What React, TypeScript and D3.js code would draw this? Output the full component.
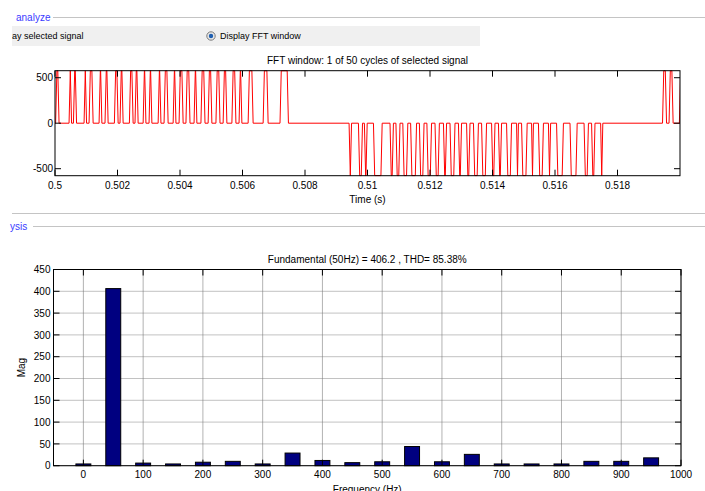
import React from 'react';
import * as d3 from 'd3';

// ---------- data ----------
const timeTicks = [0.5, 0.502, 0.504, 0.506, 0.508, 0.51, 0.512, 0.514, 0.516, 0.518];
const signalTicks = [-500, 0, 500];
const freqTicks = [0, 100, 200, 300, 400, 500, 600, 700, 800, 900, 1000];
const magTicks = [0, 50, 100, 150, 200, 250, 300, 350, 400, 450];

const harmonicFreqs = [0, 50, 100, 150, 200, 250, 300, 350, 400, 450, 500, 550, 600, 650, 700, 750, 800, 850, 900, 950];
const harmonicMags = [4, 406.2, 6, 4, 8, 10, 4, 29, 12, 7, 9, 44, 9, 26, 4, 4, 4, 10, 10, 18];

const pulseLevel = 576;
// positive pulses [start, end] in seconds
const posPulses: [number, number][] = [
  [0.50002, 0.50013], [0.50045, 0.50053], [0.50059, 0.50069], [0.50093, 0.50101],
  [0.50109, 0.50122], [0.50141, 0.5015], [0.5016, 0.5017], [0.5019, 0.50202],
  [0.50208, 0.50218], [0.50238, 0.5025], [0.50256, 0.50266], [0.50282, 0.50291],
  [0.50301, 0.5031], [0.5033, 0.50339], [0.50349, 0.50362], [0.50378, 0.50387],
  [0.50397, 0.5041], [0.50419, 0.50432], [0.50445, 0.50454], [0.50467, 0.5048],
  [0.5049, 0.50502], [0.50515, 0.50528], [0.50538, 0.5055], [0.50566, 0.50579],
  [0.50589, 0.50598], [0.50618, 0.50634], [0.50666, 0.50682], [0.5072, 0.50747],
  [0.51944, 0.51957], [0.51965, 0.51978], [0.51998, 0.5204],
];
// negative pulses [start, end] in seconds
const negPulses: [number, number][] = [
  [0.50941, 0.50949], [0.50971, 0.50984], [0.5099, 0.50999], [0.51019, 0.51047],
  [0.51072, 0.51083], [0.51091, 0.51104], [0.51113, 0.51129], [0.51138, 0.51157],
  [0.51166, 0.51181], [0.5119, 0.51205], [0.51216, 0.5123], [0.51243, 0.51253],
  [0.51264, 0.5128], [0.51291, 0.51301], [0.51317, 0.51328], [0.51339, 0.51355],
  [0.51365, 0.51381], [0.51397, 0.51408], [0.51419, 0.51429], [0.51445, 0.51461],
  [0.51477, 0.51483], [0.51493, 0.51511], [0.51525, 0.51531], [0.51547, 0.51563],
  [0.51579, 0.51586], [0.51605, 0.51627], [0.51648, 0.51671], [0.51693, 0.51707],
  [0.51717, 0.51728], [0.51746, 0.51753],
];

const FONT = "'Liberation Sans', Arial, Helvetica, sans-serif";

export default function App() {
  const W = 705, H = 491;

  // top plot
  const L1 = 55, R1 = 680, T1 = 70.7, B1 = 175.7;
  const x1 = d3.scaleLinear().domain([0.5, 0.52]).range([L1, R1]);
  const y1 = d3.scaleLinear().domain([-577, 577]).range([B1, T1]);

  // bottom plot
  const L2 = 53.5, R2 = 681, T2 = 269.5, B2 = 465.7;
  const x2 = d3.scaleLinear().domain([-50, 1000]).range([L2, R2]);
  const y2 = d3.scaleLinear().domain([0, 450]).range([B2, T2]);

  const ramp = 0.00004;
  const events = [
    ...posPulses.map((p) => ({ a: p[0], b: p[1], v: pulseLevel })),
    ...negPulses.map((p) => ({ a: p[0], b: p[1], v: -pulseLevel })),
  ].sort((m, n) => m.a - n.a);
  const pts: [number, number][] = [[0.5, 0]];
  for (const e of events) {
    const mid = (e.a + e.b) / 2;
    pts.push([e.a, 0], [Math.min(e.a + ramp, mid), e.v], [Math.max(e.b - ramp, mid), e.v], [e.b, 0]);
  }
  const line = d3.line<[number, number]>().x((d) => x1(d[0])).y((d) => y1(d[1]));
  const path = line(pts) || '';

  const tl = 6;
  const blue = '#3a3aff';

  return (
    <div style={{ position: 'absolute', left: 0, top: 0, width: W, height: H, overflow: 'hidden', background: '#fff' }}>
      <svg width={W} height={H} style={{ display: 'block', fontFamily: FONT }}>
        <defs>
          <clipPath id="clipTop">
            <rect x={L1} y={T1 - 1} width={R1 - L1} height={B1 - T1 + 2} />
          </clipPath>
        </defs>

        {/* group box header 1 */}
        <text x={16} y={21} fontSize={10} fill={blue}>analyze</text>
        <line x1={53} x2={W} y1={17.5} y2={17.5} stroke="#c4c4c4" strokeWidth={1} />
        <rect x={12} y={26} width={468} height={20} fill="#f0f0f0" />
        <text x={12} y={39} fontSize={9} fill="#000">ay selected signal</text>
        <circle cx={211} cy={36} r={4.2} fill="#e8e8e8" stroke="#7a7a7a" strokeWidth={1} />
        <circle cx={211} cy={36} r={2.2} fill="#1f5fb0" />
        <text x={220} y={39} fontSize={9} fill="#000">Display FFT window</text>

        {/* top plot */}
        <text x={(L1 + R1) / 2} y={63.5} fontSize={10} textAnchor="middle">FFT window: 1 of 50 cycles of selected signal</text>
        <path d={path} fill="none" stroke="#ff0000" strokeWidth={1} clipPath="url(#clipTop)" />
        <rect x={L1} y={T1} width={R1 - L1} height={B1 - T1} fill="none" stroke="#000" strokeWidth={1} />
        {timeTicks.map((t) => (
          <g key={'tt' + t}>
            <line x1={x1(t)} x2={x1(t)} y1={B1} y2={B1 - tl} stroke="#000" />
            <line x1={x1(t)} x2={x1(t)} y1={T1} y2={T1 + tl} stroke="#000" />
            <text x={x1(t)} y={188.5} fontSize={10} textAnchor="middle">{String(t)}</text>
          </g>
        ))}
        {signalTicks.map((v) => (
          <g key={'st' + v}>
            <line x1={L1} x2={L1 + tl} y1={y1(v)} y2={y1(v)} stroke="#000" />
            <line x1={R1} x2={R1 - tl} y1={y1(v)} y2={y1(v)} stroke="#000" />
            <text x={53} y={y1(v) + 3.6} fontSize={10} textAnchor="end">{String(v)}</text>
          </g>
        ))}
        <text x={(L1 + R1) / 2} y={202.5} fontSize={10} textAnchor="middle">Time (s)</text>

        {/* group box header 2 */}
        <line x1={12} x2={W} y1={213.5} y2={213.5} stroke="#c4c4c4" strokeWidth={1} />
        <text x={10} y={230} fontSize={10} fill={blue}>ysis</text>
        <line x1={33} x2={W} y1={226.5} y2={226.5} stroke="#c4c4c4" strokeWidth={1} />

        {/* bottom plot */}
        <text x={(L2 + R2) / 2} y={263} fontSize={10} textAnchor="middle">Fundamental (50Hz) = 406.2 , THD= 85.38%</text>
        {freqTicks.map((f) => (
          <line key={'gx' + f} x1={x2(f)} x2={x2(f)} y1={T2} y2={B2} stroke="#555" strokeWidth={0.9} strokeDasharray="1 1" />
        ))}
        {magTicks.map((m) => (
          <line key={'gy' + m} x1={L2} x2={R2} y1={y2(m)} y2={y2(m)} stroke="#777" strokeWidth={0.9} strokeDasharray="1 1" />
        ))}
        {harmonicFreqs.map((f, i) => (
          <rect key={'b' + f} x={x2(f - 12.5)} y={y2(harmonicMags[i])} width={x2(f + 12.5) - x2(f - 12.5)}
            height={y2(0) - y2(harmonicMags[i])} fill="#000080" stroke="#000" strokeWidth={1} />
        ))}
        <rect x={L2} y={T2} width={R2 - L2} height={B2 - T2} fill="none" stroke="#000" strokeWidth={1} />
        {freqTicks.map((f) => (
          <g key={'ft' + f}>
            <line x1={x2(f)} x2={x2(f)} y1={B2} y2={B2 - tl} stroke="#000" />
            <line x1={x2(f)} x2={x2(f)} y1={T2} y2={T2 + tl} stroke="#000" />
            <text x={x2(f)} y={477.5} fontSize={10} textAnchor="middle">{String(f)}</text>
          </g>
        ))}
        {magTicks.map((m) => (
          <g key={'mt' + m}>
            <line x1={L2} x2={L2 + tl} y1={y2(m)} y2={y2(m)} stroke="#000" />
            <line x1={R2} x2={R2 - tl} y1={y2(m)} y2={y2(m)} stroke="#000" />
            <text x={50.5} y={y2(m) + 3.6} fontSize={10} textAnchor="end">{String(m)}</text>
          </g>
        ))}
        <text transform={`translate(25,${(T2 + B2) / 2}) rotate(-90)`} fontSize={10} textAnchor="middle">Mag</text>
        <text x={(L2 + R2) / 2} y={492.5} fontSize={10} textAnchor="middle">Frequency (Hz)</text>
      </svg>
    </div>
  );
}
